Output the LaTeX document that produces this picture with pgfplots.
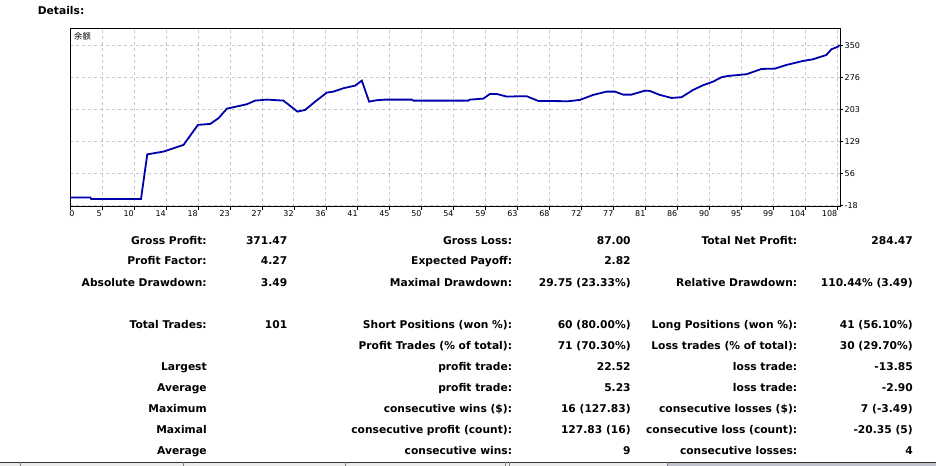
\documentclass[border=0pt]{standalone}
\usepackage{fontspec}
\setmainfont{DejaVu Sans}
\newfontfamily\cjk{Noto Sans CJK SC}
\usepackage{pgfplots}
\pgfplotsset{compat=1.18}
\definecolor{balance}{RGB}{0,0,170}
\definecolor{gridgray}{RGB}{200,200,200}
\definecolor{stripgray}{RGB}{236,236,236}
\definecolor{stripdark}{RGB}{190,195,205}

% one row of the report: y, then six cells (label/value x3)
\newcommand\row[7]{%
  \node[anchor=base east] at (206.7,#1) {#2};
  \node[anchor=base east] at (287.3,#1) {#3};
  \node[anchor=base east] at (512.3,#1) {#4};
  \node[anchor=base east] at (631.0,#1) {#5};
  \node[anchor=base east] at (797.7,#1) {#6};
  \node[anchor=base east] at (913.3,#1) {#7};
}

\begin{document}
\begin{tikzpicture}
\begin{scope}[x=1pt,y=-1pt]
  \path[use as bounding box, fill=white] (0,0) rectangle (936,466);
\end{scope}

\begin{axis}[
  at={(69.7pt,-206.7pt)}, anchor=south west,
  scale only axis, width=770.6pt, height=178.7pt,
  xmin=0, xmax=108.85, ymin=-20.7, ymax=390.3,
  axis line style={line width=0.8pt},
  xtick={0,4.52,9.04,13.56,18.08,22.6,27.12,31.64,36.16,40.68,45.2,49.72,54.24,
         58.76,63.28,67.8,72.32,76.84,81.36,85.88,90.4,94.92,99.44,103.96,108.48},
  xticklabels={\makebox[0pt][l]{0},5,10,14,18,23,27,32,36,41,45,50,54,59,63,68,72,77,81,86,90,95,99,104,108},
  ytick={-18,55.6,129.2,202.8,276.4,350},
  yticklabels={-18,56,129,203,276,350},
  xtick pos=lower, ytick pos=upper, yticklabel pos=right,
  tick align=outside, major tick length=3pt,
  tick style={black, line width=0.6pt},
  grid=major,
  major grid style={gridgray, dash pattern=on 3pt off 3pt, line width=0.7pt},
  xticklabel style={font=\fontsize{8}{9}\selectfont, anchor=north east, inner sep=0pt, yshift=-1pt},
  yticklabel style={font=\fontsize{8}{9}\selectfont, anchor=west, inner sep=0pt, xshift=1.5pt},
]
\addplot[balance, line width=1.8pt] coordinates {
(0,0) (2.87,0) (3.01,-3.5) (10.03,-3.5) (10.92,99.4) (13.22,105.8) (16.05,121.2)
(18.08,167.2) (19.82,169.5) (20.99,182.6) (22.18,204.7) (23.11,207.9) (25.0,214.8)
(26.17,223.1) (27.83,225.4) (30.17,223.1) (32.15,197.8) (33.24,201.7) (34.65,220.8)
(36.30,241.5) (37.23,243.8) (38.65,251.6) (40.30,257.6) (41.25,269.1) (42.28,220.8)
(43.36,224.0) (44.54,225.4) (48.31,225.4) (48.53,223.1) (56.30,223.1) (56.54,225.4)
(58.42,227.7) (59.37,238.5) (60.31,238.5) (61.73,232.3) (63.61,233.2) (64.55,233.2)
(66.19,222.4) (70.43,221.7) (72.08,224.7) (73.96,236.2) (75.85,243.8) (77.03,243.8)
(78.20,236.9) (79.38,236.9) (81.27,246.1) (81.97,245.4) (83.38,236.2) (85.03,229.3)
(86.45,230.9) (88.08,247.7) (89.50,258.5) (90.91,266.8) (92.10,276.9) (93.03,279.9)
(95.63,283.8) (97.75,296.0) (99.63,296.7) (101.28,305.2) (103.62,314.4) (105.04,318.3)
(106.93,328.2) (107.64,341.3) (108.56,347.3) (108.80,351.2)
};
\node[anchor=north west, inner sep=0pt, font=\cjk\fontsize{8.3}{9}\selectfont]
  at (rel axis cs:0,1) [xshift=4pt, yshift=-4pt] {余额};
\end{axis}

\begin{scope}[x=1pt,y=-1pt]
  \node[anchor=base west, inner sep=0pt, font=\fontsize{10.7}{12}\selectfont\bfseries]
    at (37.3,14.5) {Details:};
  \begin{scope}[font=\fontsize{10.7}{12}\selectfont\bfseries, inner sep=0pt]
    \row{244.7}{Gross Profit:}{371.47}{Gross Loss:}{87.00}{Total Net Profit:}{284.47}
    \row{265.0}{Profit Factor:}{4.27}{Expected Payoff:}{2.82}{}{}
    \row{286.7}{Absolute Drawdown:}{3.49}{Maximal Drawdown:}{29.75 (23.33\%)}{Relative Drawdown:}{110.44\% (3.49)}
    \row{328.3}{Total Trades:}{101}{Short Positions (won \%):}{60 (80.00\%)}{Long Positions (won \%):}{41 (56.10\%)}
    \row{349.7}{}{}{Profit Trades (\% of total):}{71 (70.30\%)}{Loss trades (\% of total):}{30 (29.70\%)}
    \row{370.7}{Largest}{}{profit trade:}{22.52}{loss trade:}{-13.85}
    \row{391.7}{Average}{}{profit trade:}{5.23}{loss trade:}{-2.90}
    \row{412.7}{Maximum}{}{consecutive wins (\$):}{16 (127.83)}{consecutive losses (\$):}{7 (-3.49)}
    \row{433.7}{Maximal}{}{consecutive profit (count):}{127.83 (16)}{consecutive loss (count):}{-20.35 (5)}
    \row{454.7}{Average}{}{consecutive wins:}{9}{consecutive losses:}{4}
  \end{scope}
  % window strip at the bottom
  \fill[stripgray] (0,462.5) rectangle (667,466);
  \fill[stripdark] (667,462.5) rectangle (936,466);
  \draw[black!80, line width=0.8pt] (0,462.5) -- (936,462.5);
  \foreach \sx in {20,182.7,345,505,509,667}
    \draw[gray, line width=0.6pt] (\sx,462.5) -- (\sx,466);
\end{scope}
\end{tikzpicture}
\end{document}
